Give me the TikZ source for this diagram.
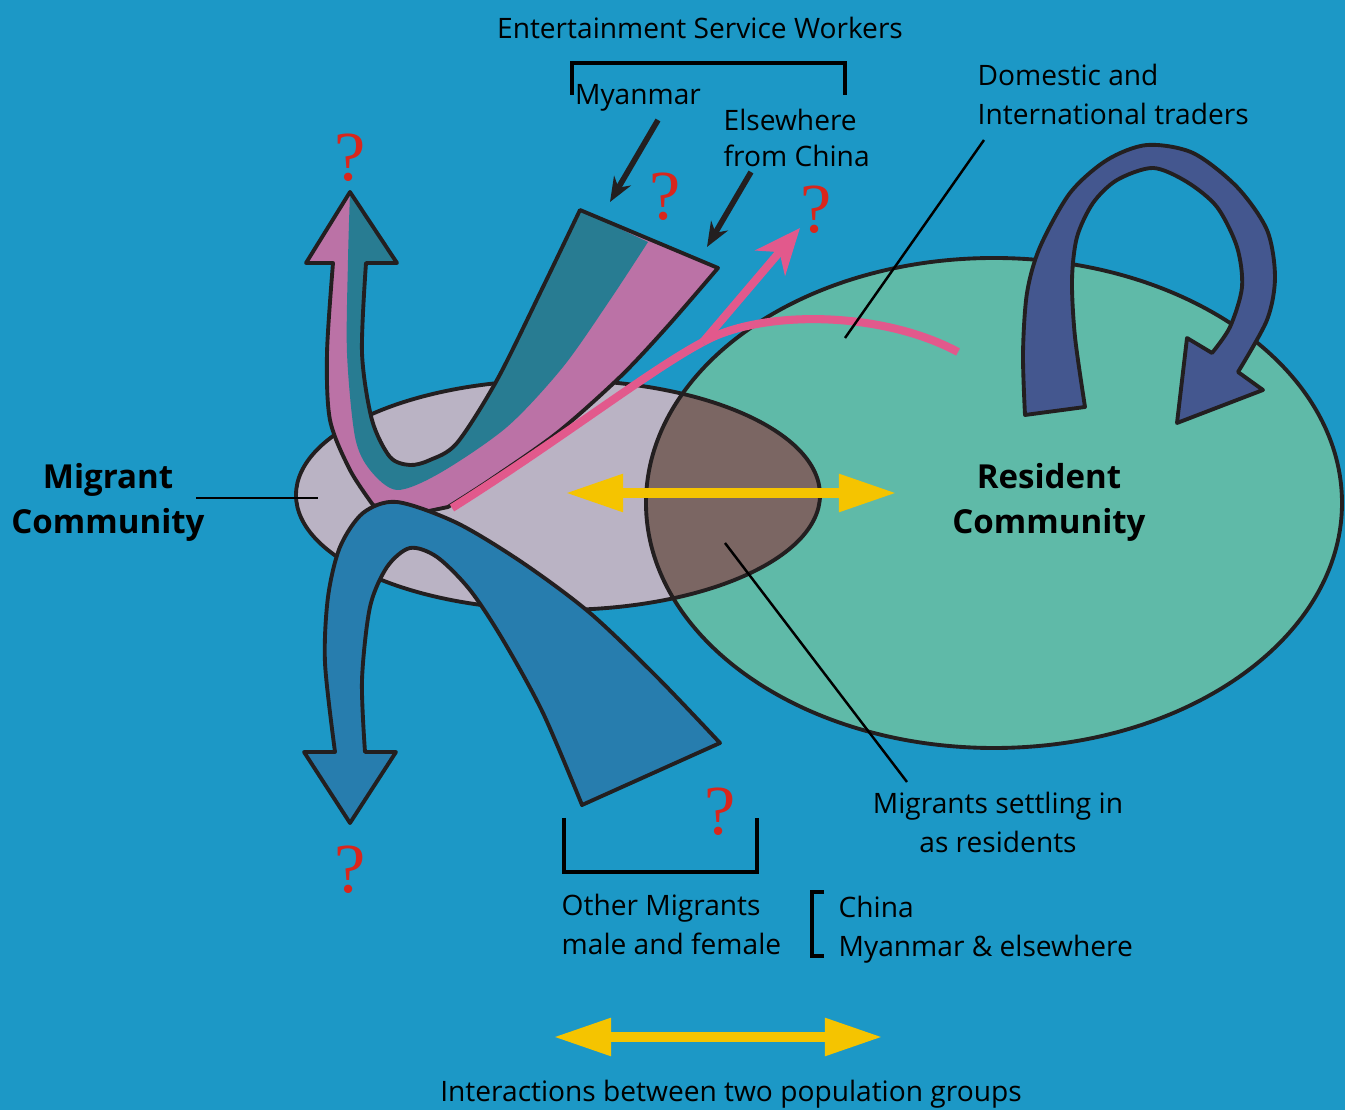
\documentclass[tikz,border=0pt]{standalone}
\usepackage{fontspec}
\setmainfont{Open Sans}
\newfontfamily\qfont{Liberation Serif}
\usetikzlibrary{arrows.meta, positioning}
\definecolor{bgblue}{RGB}{28,152,198}
\definecolor{lavender}{RGB}{186,179,196}
\definecolor{greenc}{RGB}{95,186,168}
\definecolor{brownc}{RGB}{123,102,99}
\definecolor{pinkband}{RGB}{187,114,166}
\definecolor{tealc}{RGB}{40,124,146}
\definecolor{bluec}{RGB}{39,125,174}
\definecolor{navyc}{RGB}{68,87,143}
\definecolor{hotpink}{RGB}{226,89,140}
\definecolor{yellowc}{RGB}{245,196,0}
\definecolor{qred}{RGB}{217,38,28}
\definecolor{edge}{RGB}{35,31,32}
\begin{document}
\begin{tikzpicture}[x=0.01cm, y=-0.01cm, >={Stealth[length=7pt,width=5.5pt]},
  txt/.style={font=\fontsize{8}{11.1}\selectfont, inner sep=0pt},
  bigtxt/.style={font=\fontsize{9.4}{12.8}\selectfont\bfseries, align=center, inner sep=0pt},
  qmark/.style={text=qred, font=\qfont\fontsize{20}{20}\selectfont, inner sep=0pt},
  outline/.style={draw=edge, line width=1.1pt, line join=round},
  leader/.style={line width=0.7pt},
  bracket/.style={line width=1.1pt},
  yarrow/.style={yellowc, line width=3.1pt, {Triangle[length=16.5pt,width=10pt]}-{Triangle[length=16.5pt,width=10pt]}}]
\fill[bgblue] (0,0) rectangle (1345,1110);
\useasboundingbox (0,0) rectangle (1345,1110);

\fill[greenc] (994,503) ellipse [x radius=348, y radius=245];
\fill[lavender] (558,495) ellipse [x radius=262, y radius=115];
\begin{scope}
  \clip (994,503) ellipse [x radius=348, y radius=245];
  \fill[brownc] (558,495) ellipse [x radius=262, y radius=115];
\end{scope}
\draw[outline] (994,503) ellipse [x radius=348, y radius=245];
\draw[outline] (558,495) ellipse [x radius=262, y radius=115];

\fill[pinkband] (580,210) -- (718,268)
  -- plot[smooth] coordinates {(718,268) (667,327) (620,377) (557,433) (490,480) (448,507)} -- (410,515) -- (373,505)
  -- plot[smooth] coordinates {(373,505) (350,470) (330,420) (327,353) (333,263)}
  -- (306,263) -- (350,192) -- (397,263) -- (366,263)
  -- plot[smooth] coordinates {(366,263) (362,353) (372,420) (390,457) (410,465) (430,460) (457,443) (497,380) (543,287) (580,210)} -- cycle;
\fill[tealc] (580,210) -- (648,242)
  -- plot[smooth] coordinates {(648,242) (610,300) (563,367) (507,427) (440,473) (397,490) (370,470) (355,437) (347,353) (348,260) (350,192)}
  -- (397,263) -- (366,263)
  -- plot[smooth] coordinates {(366,263) (362,353) (372,420) (390,457) (410,465) (430,460) (457,443) (497,380) (543,287) (580,210)} -- cycle;
\draw[outline] (580,210) -- (718,268)
  -- plot[smooth] coordinates {(718,268) (667,327) (620,377) (557,433) (490,480) (448,507)} -- (410,515) -- (373,505)
  -- plot[smooth] coordinates {(373,505) (350,470) (330,420) (327,353) (333,263)}
  -- (306,263) -- (350,192) -- (397,263) -- (366,263)
  -- plot[smooth] coordinates {(366,263) (362,353) (372,420) (390,457) (410,465) (430,460) (457,443) (497,380) (543,287) (580,210)} -- cycle;

\draw[outline, fill=bluec] (365,752)
  -- plot[smooth] coordinates {(365,752) (362,680) (370,607) (387,567) (410,548) (437,557) (470,590) (503,640) (543,713) (582,805)}
  -- (720,743)
  -- plot[smooth] coordinates {(720,743) (657,677) (590,613) (523,563) (457,523) (397,502) (363,513) (340,547) (328,597) (325,663) (335,752)}
  -- (304,752) -- (350,823) -- (396,752) -- cycle;

\draw[outline, fill=navyc] (1025,415)
  -- plot[smooth] coordinates {(1025,415) (1023,353) (1027,293) (1040,247) (1070,193) (1107,160) (1147,145) (1193,153) (1237,187) (1267,230) (1275,277) (1267,320) (1238,372)}
  -- (1263,390) -- (1177,423) -- (1187,338) -- (1212,353)
  -- plot[smooth] coordinates {(1212,353) (1230,327) (1242,287) (1237,247) (1217,207) (1187,182) (1153,168) (1117,180) (1093,203) (1077,237) (1072,280) (1075,337) (1085,407)} -- cycle;

\coordinate (pinkstart) at (452,508);
\coordinate (fork) at (703,342);
\coordinate (pinktip) at (800,228);
\coordinate (pinkend) at (958,352);
\draw[hotpink, line width=2.3pt] (pinkstart) .. controls (560,440) and (650,370) .. (fork);
\draw[hotpink, line width=2.3pt, -{Stealth[length=13pt,width=11pt,inset=4pt]}] (fork) -- (pinktip);
\draw[hotpink, line width=2.3pt] (fork) .. controls (760,310) and (880,310) .. (pinkend);

\coordinate (yleft) at (565,493);
\coordinate (yright) at (897,493);
\draw[yarrow] (yleft) -- (yright);

\node[bigtxt] (migrant) at (108,502) {Migrant\\Community};
\node[bigtxt] (resident) at (1049,502) {Resident\\Community};
\coordinate (migA) at (196,498);
\coordinate (migB) at (318,498);
\draw[leader] (migA) -- (migB);

\node[txt] (esw) at (700,28) {Entertainment Service Workers};
\draw[bracket] (572,95) -- (572,63) -- (845,63) -- (845,95);
\node[txt] (myanmar) at (638,98) {Myanmar};
\node[txt, anchor=west, align=left, font=\fontsize{8}{10}\selectfont] (elsewhere) at (723,138) {Elsewhere\\from China};
\coordinate (myA) at (658,120);
\coordinate (myB) at (610,202);
\coordinate (elA) at (751,172);
\coordinate (elB) at (707,247);
\draw[->, line width=1.6pt, edge] (myA) -- (myB);
\draw[->, line width=1.6pt, edge] (elA) -- (elB);

\node[txt, anchor=west, align=left] (traders) at (977,94) {Domestic and\\International traders};
\coordinate (trA) at (984,140);
\coordinate (trB) at (845,338);
\draw[leader] (trA) -- (trB);

\node[txt, align=center] (settling) at (998,822) {Migrants settling in\\as residents};
\coordinate (seA) at (725,543);
\coordinate (seB) at (907,782);
\draw[leader] (seA) -- (seB);

\draw[bracket] (564,818) -- (564,872) -- (757,872) -- (757,818);
\node[txt, anchor=west, align=left] (others) at (561,924) {Other Migrants\\male and female};
\draw[bracket] (824,892) -- (812,892) -- (812,956) -- (824,956);
\node[txt, anchor=west, align=left] (origins) at (838,930) {China\\Myanmar \& elsewhere};

\coordinate (lgleft) at (553,1037);
\coordinate (lgright) at (883,1037);
\draw[yarrow] (lgleft) -- (lgright);
\node[txt, anchor=base] (legend) at (731,1101) {Interactions between two population groups};

\foreach \p [count=\i] in {(350,158),(665,197),(816,210),(720,812),(350,870)}
  \node[qmark] (q\i) at \p {?};
\end{tikzpicture}
\end{document}
